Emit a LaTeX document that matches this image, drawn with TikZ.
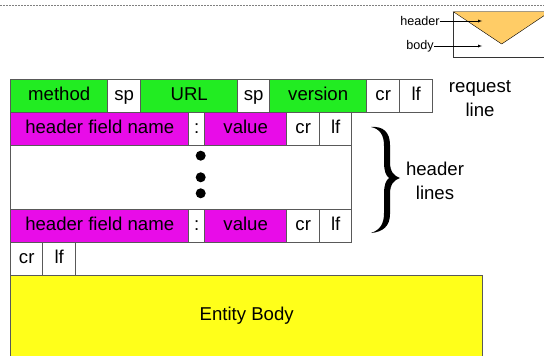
\documentclass[tikz,border=0pt]{standalone}
\usepackage{fontspec}
\setmainfont{Liberation Sans}
\usepackage{tikz}
\usetikzlibrary{positioning}
\definecolor{lineGreen}{RGB}{34,236,34}
\definecolor{fieldMagenta}{RGB}{232,12,232}
\definecolor{bodyYellow}{RGB}{255,255,26}
\definecolor{iconOrange}{RGB}{255,204,102}
\tikzset{
  cell/.style={draw=black!65, line width=0.8pt, anchor=north west, inner sep=0pt, outer sep=0pt,
    minimum height=33pt, text height=13pt, text depth=4pt, font=\fontsize{18.6}{23.5}\selectfont},
  reqcell/.style={cell, fill=lineGreen},
  hdrcell/.style={cell, fill=fieldMagenta},
  lbl/.style={align=center, inner sep=0pt, font=\fontsize{18.6}{23.5}\selectfont},
  small/.style={inner sep=0pt, font=\fontsize{12.6}{15}\selectfont},
}
\def\drawHeaderLine#1#2{
\node[hdrcell, minimum width=178pt] (#1name) at (10.7,#2) {header field name};
\node[cell, minimum width=16pt, right=0pt of #1name] (#1colon) {:};
\node[hdrcell, minimum width=82pt, right=0pt of #1colon] (#1value) {value};
\node[cell, minimum width=33pt, right=0pt of #1value] (#1cr) {cr};
\node[cell, minimum width=32pt, right=0pt of #1cr] (#1lf) {lf};
}

\begin{document}
\begin{tikzpicture}[x=1pt, y=-1pt]
  \useasboundingbox (0,0) rectangle (544,356);
  \clip (0,0) rectangle (544,356);
  \draw[gray, line width=1pt, dash pattern=on 2pt off 1pt] (0,5) -- (544,5);
  % icon top right
  \draw[black!80, fill=white] (453.3,11.7) rectangle (560,57.3);
  \draw[black, fill=iconOrange] (453.3,11.7) -- (550,11.7) -- (501.7,44) -- cycle;
  \node[small] (hdrlbl) at (420,21) {header};
  \node[small] (bodylbl) at (420,46) {body};
  \coordinate (hdrtip) at (482,21);
  \coordinate (bodytip) at (482,46);
  \draw[-latex] (hdrlbl.east) -- (hdrtip);
  \draw[-latex] (bodylbl.east) -- (bodytip);
  % request line
  \node[reqcell, minimum width=97pt, minimum height=32.5pt] (method) at (10.7,79.5) {method};
  \node[cell, minimum width=33pt, minimum height=32.5pt, right=0pt of method] (sp1) {sp};
  \node[reqcell, minimum width=97pt, minimum height=32.5pt, right=0pt of sp1] (url) {URL};
  \node[cell, minimum width=32pt, minimum height=32.5pt, right=0pt of url] (sp2) {sp};
  \node[reqcell, minimum width=97pt, minimum height=32.5pt, right=0pt of sp2] (version) {version};
  \node[cell, minimum width=33pt, minimum height=32.5pt, right=0pt of version] (reqcr) {cr};
  \node[cell, minimum width=33pt, minimum height=32.5pt, right=0pt of reqcr] (reqlf) {lf};
  \node[lbl] (reqlbl) at (480,98.5) {request\\line};
  % header lines
  \node[cell, minimum width=341pt, minimum height=64.3pt] (gap) at (10.7,145) {};
  \drawHeaderLine{first}{112}
  \drawHeaderLine{last}{209.3}
  \foreach \y in {155.7,177.3,193.3}
    \fill (200.7,\y) circle (5);
  % brace
  \fill (371,127) .. controls (383,126) and (390,132) .. (390,145) -- (390,162)
    .. controls (390,172) and (394,176) .. (400,178)
    .. controls (394,180) and (390,184) .. (390,194) -- (390,214)
    .. controls (390,226) and (383,232) .. (371,233)
    .. controls (380,230) and (384,224) .. (384,213) -- (384,194)
    .. controls (384,185) and (386,180) .. (389,178)
    .. controls (386,176) and (384,171) .. (384,162) -- (384,146)
    .. controls (384,135) and (380,129) .. (371,127) -- cycle;
  \node[lbl] (hdrlines) at (435,181) {header\\lines};
  % blank line and body
  \node[cell, minimum width=32pt] (blankcr) at (10.7,242.3) {cr};
  \node[cell, minimum width=33pt, right=0pt of blankcr] (blanklf) {lf};
  \node[cell, fill=bodyYellow, minimum width=472pt, minimum height=82pt] (entity) at (10.7,275) {Entity Body};
\end{tikzpicture}
\end{document}
